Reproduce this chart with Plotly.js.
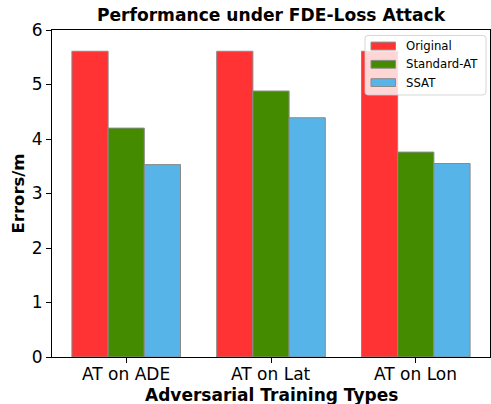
<!DOCTYPE html>
<html>
<head>
<meta charset="utf-8">
<script src="https://cdn.plot.ly/plotly-3.0.1.min.js"></script>
<style>
  html, body { margin: 0; padding: 0; background: #fff; }
  #chart { width: 491px; height: 404px; }
</style>
</head>
<body>
<div id="chart"></div>
<script>
// Adversarial training types on the x axis
const categories = ['AT on ADE', 'AT on Lat', 'AT on Lon'];
// Error (m) under the FDE-loss attack for each model
const seriesNames = ['Original', 'Standard-AT', 'SSAT'];
const original   = [5.61, 5.61, 5.61];
const standardAT = [4.20, 4.88, 3.76];
const ssat       = [3.53, 4.39, 3.55];
const yTicks = [0, 1, 2, 3, 4, 5, 6];

const colors = ['#ff3333', '#458b00', '#56b4e9'];
const edge = '#8a8a8a';
const FONT = 'DejaVu Sans, Verdana, sans-serif';

const W = 491, H = 404;
const M = { l: 52, r: 1, t: 30, b: 47 };
const PW = W - M.l - M.r, PH = H - M.t - M.b;
// pixel -> paper helpers for labels and the hand-built legend
const px = x => (x - M.l) / PW;
const py = y => (H - M.b - y) / PH;

const values = [original, standardAT, ssat];
const traces = values.map((v, i) => ({
  type: 'bar',
  name: seriesNames[i],
  x: categories,
  y: v,
  marker: { color: colors[i], line: { color: edge, width: 1 } },
  hoverinfo: 'skip',
  showlegend: false
}));

const shapes = [];
const annotations = [];

// Category labels under the x axis ticks
categories.forEach(c => {
  annotations.push({
    xref: 'x', yref: 'paper', x: c, y: py(374),
    xanchor: 'center', yanchor: 'middle', showarrow: false,
    text: c, font: { family: FONT, size: 17, color: '#000' }
  });
});
// Axis titles
annotations.push({
  xref: 'paper', yref: 'paper', x: px(271), y: py(394.5),
  xanchor: 'center', yanchor: 'middle', showarrow: false,
  text: '<b>Adversarial Training Types</b>', font: { family: FONT, size: 17, color: '#000' }
});
annotations.push({
  xref: 'paper', yref: 'paper', x: px(18), y: py(193.5),
  xanchor: 'center', yanchor: 'middle', showarrow: false, textangle: -90,
  text: '<b>Errors/m</b>', font: { family: FONT, size: 16.5, color: '#000' }
});

// Legend box (semi-transparent, rounded) plus patches and labels
const L = { x0: 365, x1: 486, y0: 35.5, y1: 95, r: 3 };
const box = [
  `M ${px(L.x0 + L.r)} ${py(L.y0)}`,
  `L ${px(L.x1 - L.r)} ${py(L.y0)}`,
  `Q ${px(L.x1)} ${py(L.y0)} ${px(L.x1)} ${py(L.y0 + L.r)}`,
  `L ${px(L.x1)} ${py(L.y1 - L.r)}`,
  `Q ${px(L.x1)} ${py(L.y1)} ${px(L.x1 - L.r)} ${py(L.y1)}`,
  `L ${px(L.x0 + L.r)} ${py(L.y1)}`,
  `Q ${px(L.x0)} ${py(L.y1)} ${px(L.x0)} ${py(L.y1 - L.r)}`,
  `L ${px(L.x0)} ${py(L.y0 + L.r)}`,
  `Q ${px(L.x0)} ${py(L.y0)} ${px(L.x0 + L.r)} ${py(L.y0)} Z`
].join(' ');
shapes.push({
  type: 'path', xref: 'paper', yref: 'paper', layer: 'above',
  path: box, fillcolor: 'rgba(255,255,255,0.8)',
  line: { color: 'rgba(204,204,204,0.8)', width: 1 }
});
seriesNames.forEach((name, i) => {
  const cy = 46 + i * 18.3;
  shapes.push({
    type: 'rect', xref: 'paper', yref: 'paper', layer: 'above',
    x0: px(371), x1: px(395.5), y0: py(cy - 3.9), y1: py(cy + 3.9),
    fillcolor: colors[i], line: { color: edge, width: 1 }
  });
  annotations.push({
    xref: 'paper', yref: 'paper', x: px(404), y: py(cy),
    xanchor: 'left', yanchor: 'middle', showarrow: false,
    text: name, font: { family: FONT, size: 11.7, color: '#000' }
  });
});

const layout = {
  width: W, height: H,
  margin: M,
  paper_bgcolor: '#fff', plot_bgcolor: '#fff',
  font: { family: FONT, color: '#000' },
  barmode: 'group', bargap: 0.25, bargroupgap: 0,
  showlegend: false,
  title: {
    text: '<b>Performance under FDE-Loss Attack</b>',
    font: { family: FONT, size: 17.1, color: '#000' },
    x: px(271), xref: 'paper', xanchor: 'center',
    y: 1 - 15.5 / H, yref: 'container', yanchor: 'middle'
  },
  xaxis: {
    type: 'category',
    range: [-0.5125, 2.5125],
    showgrid: false, zeroline: false,
    showline: true, linecolor: '#000', linewidth: 1, mirror: true,
    ticks: 'outside', ticklen: 5, tickwidth: 1, tickcolor: '#000',
    showticklabels: false
  },
  yaxis: {
    range: [0, 6],
    tickvals: yTicks, ticktext: yTicks.map(String),
    showgrid: false, zeroline: false,
    showline: true, linecolor: '#000', linewidth: 1, mirror: true,
    ticks: 'outside', ticklen: 5, tickwidth: 1, tickcolor: '#000',
    tickfont: { family: FONT, size: 17, color: '#000' }
  },
  shapes: shapes,
  annotations: annotations
};

Plotly.newPlot('chart', traces, layout, { staticPlot: true, displayModeBar: false });
</script>
</body>
</html>
